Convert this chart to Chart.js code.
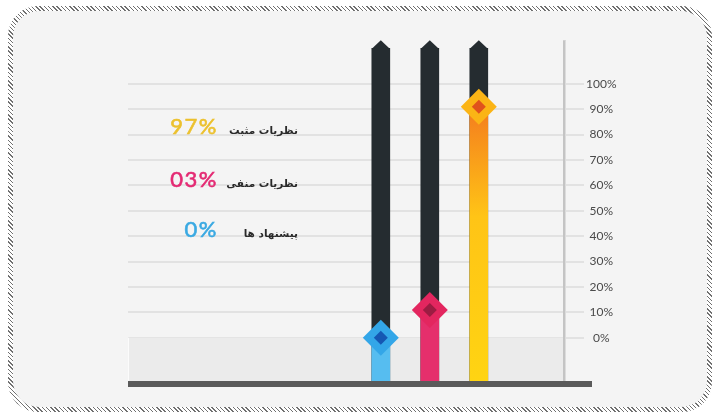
<!DOCTYPE html>
<html lang="fa">
<head>
<meta charset="utf-8">
<script src="https://cdn.jsdelivr.net/npm/chart.js@4.4.1/dist/chart.umd.min.js"></script>
<style>
  html, body { margin: 0; padding: 0; background: #fff; }
  #frame {
    position: absolute; left: 8px; top: 6px; width: 704px; height: 406px;
    border-radius: 30px;
    background: repeating-linear-gradient(45deg, #707070 0 1px, #fff 1px 3px);
  }
  #inner {
    position: absolute; left: 5px; top: 5px; right: 5px; bottom: 5px;
    border-radius: 26px; background: #f4f4f4;
  }
  #wrap { position: absolute; left: 0; top: 0; width: 720px; height: 418px; }
  .pct {
    position: absolute; width: 80px; text-align: right;
    font-family: Lato, sans-serif; font-size: 22px; letter-spacing: 1.5px; line-height: 24px;
    -webkit-text-stroke: 0.6px currentColor;
  }
  .lbl {
    position: absolute; width: 100px; text-align: right; direction: rtl;
    font-family: "DejaVu Sans", sans-serif; font-weight: bold; font-size: 10.5px;
    line-height: 14px; color: #2a2a2a;
  }
</style>
</head>
<body>
<div id="frame"><div id="inner"></div></div>
<div id="wrap"><canvas id="chart" width="720" height="418"></canvas></div>
<div id="legend"></div>
<script>
/* ---------- data ---------- */
const categories    = ['پیشنهاد ها', 'نظریات منفی', 'نظریات مثبت'];
const shownPercents = ['0%', '03%', '97%'];
const markerValues  = [0, 11, 91];
const barSlots      = [1, 2, 3];
const trackRange    = [-17, 114];
const yTicks        = [0, 10, 20, 30, 40, 50, 60, 70, 80, 90, 100];

/* ---------- colours ---------- */
const trackColor  = '#252c30';
const textColors  = ['#3aa9e2', '#e42a73', '#ecc12e'];
const outerColors = ['#33a6e8', '#e3265f', '#fbb415'];
const innerColors = ['#1557b3', '#9c1c42', '#e0521c'];

/* ---------- legend (html text) ---------- */
const legendTop = [217, 167, 114];
const legend = document.getElementById('legend');
legend.innerHTML = categories.map((c, i) => `
  <div class="pct" style="left:138px;top:${legendTop[i]}px;color:${textColors[i]}">${shownPercents[i]}</div>
  <div class="lbl" style="left:198px;top:${legendTop[i] + 9}px">${c}</div>`).join('');

/* ---------- helpers ---------- */
function fillColor(ctx) {
  const i = ctx.dataIndex;
  if (i === 0) return '#56bdf0';
  if (i === 1) return '#e52f6c';
  const chart = ctx.chart;
  const y = chart.scales.y;
  if (!y) return '#ffcc11';
  const top = y.getPixelForValue(markerValues[2]);
  const g = chart.ctx.createLinearGradient(0, top, 0, y.bottom);
  g.addColorStop(0, '#f47c1e');
  g.addColorStop(0.4, '#ffc416');
  g.addColorStop(1, '#ffd412');
  return g;
}

const TIP = 8;

const framePlugin = {
  id: 'frame',
  beforeDatasetsDraw(chart) {
    const { ctx, chartArea: a, scales: { y } } = chart;
    const y0 = y.getPixelForValue(0);
    ctx.save();
    // grey box below the 0% line
    ctx.fillStyle = '#ebebeb';
    ctx.fillRect(a.left, y0, a.right - a.left, a.bottom - y0);
    ctx.strokeStyle = '#fbfbfb';
    ctx.lineWidth = 1;
    ctx.beginPath();
    ctx.moveTo(a.left + 0.5, y0);
    ctx.lineTo(a.left + 0.5, a.bottom);
    ctx.stroke();
    // vertical axis line, as tall as the tracks
    const topY = y.getPixelForValue(trackRange[1]) - TIP;
    ctx.fillStyle = '#c4c4c4';
    ctx.fillRect(a.right - 3, topY, 3, a.bottom - topY);
    ctx.fillStyle = '#dcdcdc';
    ctx.fillRect(a.right - 1, topY, 1, a.bottom - topY);
    ctx.restore();
  },
  afterDatasetsDraw(chart) {
    const { ctx } = chart;
    const meta = chart.getDatasetMeta(0);
    ctx.save();
    ctx.fillStyle = trackColor;
    meta.data.forEach(el => {
      const w = el.width / 2;
      ctx.beginPath();
      ctx.moveTo(el.x - w, el.y + 0.5);
      ctx.lineTo(el.x, el.y - TIP);
      ctx.lineTo(el.x + w, el.y + 0.5);
      ctx.closePath();
      ctx.fill();
    });
    ctx.restore();
  },
  afterDraw(chart) {
    const { ctx, chartArea: a } = chart;
    ctx.save();
    ctx.fillStyle = '#5a5a5a';
    ctx.fillRect(a.left, a.bottom, 592 - a.left, 6);
    ctx.restore();
  }
};

/* ---------- chart ---------- */
new Chart(document.getElementById('chart'), {
  type: 'bar',
  data: {
    datasets: [
      {
        label: 'track',
        data: barSlots.map(x => ({ x, y: trackRange })),
        backgroundColor: trackColor,
        barThickness: 18,
        grouped: false,
        order: 4
      },
      {
        label: 'value',
        data: barSlots.map((x, i) => ({ x, y: [trackRange[0], markerValues[i]] })),
        backgroundColor: fillColor,
        barThickness: 18,
        grouped: false,
        order: 3
      },
      {
        type: 'scatter',
        label: 'outer',
        data: barSlots.map((x, i) => ({ x, y: markerValues[i] })),
        pointStyle: 'rectRot',
        pointRadius: 18,
        pointBackgroundColor: outerColors,
        pointBorderWidth: 0,
        order: 2
      },
      {
        type: 'scatter',
        label: 'inner',
        data: barSlots.map((x, i) => ({ x, y: markerValues[i] })),
        pointStyle: 'rectRot',
        pointRadius: 7,
        pointBackgroundColor: innerColors,
        pointBorderWidth: 0,
        order: 1
      }
    ]
  },
  options: {
    responsive: false,
    animation: false,
    layout: { padding: { left: 128, top: 33, bottom: 37, right: 94 } },
    plugins: { legend: { display: false }, tooltip: { enabled: false } },
    scales: {
      x: { type: 'linear', min: -4.16, max: 4.78, display: false, offset: false },
      y: {
        position: 'right',
        min: -17,
        max: 120,
        afterBuildTicks: s => { s.ticks = yTicks.map(v => ({ value: v })); },
        afterFit: s => { s.width = 60; },
        grid: { color: '#e2e2e2', lineWidth: 2, drawTicks: true, tickLength: 18, tickColor: '#e2e2e2' },
        border: { display: false },
        ticks: {
          padding: 2,
          crossAlign: 'center',
          color: '#4a4a4a',
          font: { family: 'Lato', size: 12 },
          callback: v => v + '%'
        }
      }
    }
  },
  plugins: [framePlugin]
});
</script>
</body>
</html>
